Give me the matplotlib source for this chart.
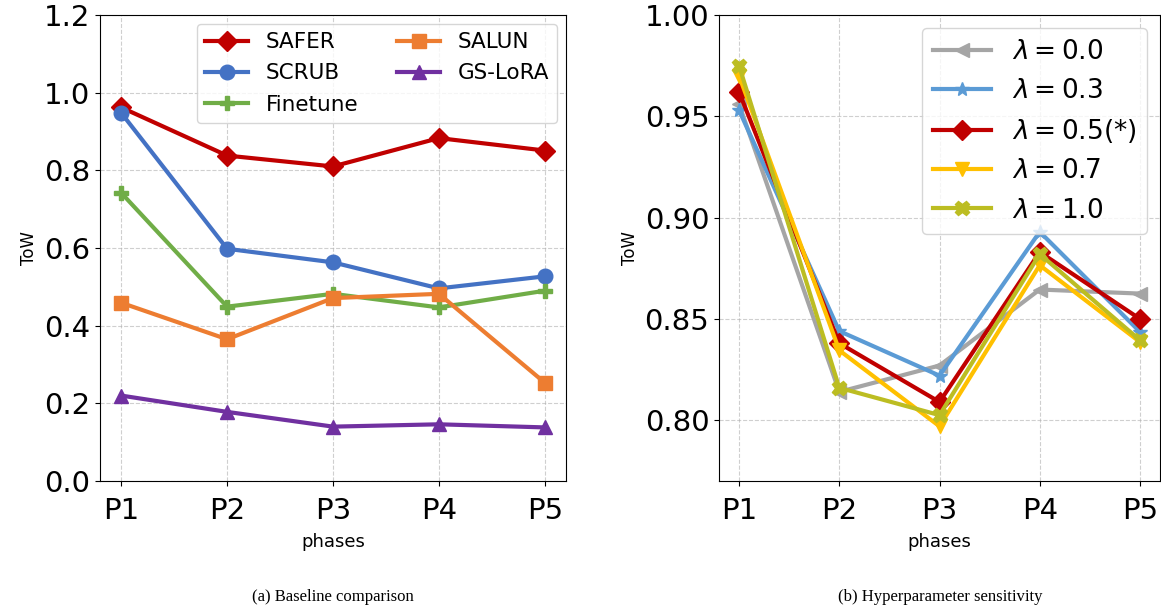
import numpy as np
import matplotlib.pyplot as plt

phases = ['P1', 'P2', 'P3', 'P4', 'P5']

# (a) baseline comparison
safer = [0.962, 0.838, 0.810, 0.883, 0.851]
scrub = [0.948, 0.598, 0.563, 0.496, 0.527]
finetune = [0.742, 0.449, 0.482, 0.447, 0.490]
salun = [0.459, 0.365, 0.471, 0.482, 0.253]
gs_lora = [0.220, 0.178, 0.140, 0.146, 0.138]

# (b) hyperparameter sensitivity
lam_00 = [0.956, 0.814, 0.827, 0.8645, 0.8625]
lam_03 = [0.953, 0.844, 0.822, 0.893, 0.8436]
lam_05 = [0.962, 0.838, 0.809, 0.883, 0.850]
lam_07 = [0.970, 0.8345, 0.797, 0.8765, 0.8386]
lam_10 = [0.975, 0.816, 0.8025, 0.882, 0.8395]

x = np.arange(len(phases))

fig = plt.figure(figsize=(11.61, 6.08), dpi=100)
ax1 = fig.add_axes([100/1161, 1-481/608, 466/1161, 466/608])
ax2 = fig.add_axes([719/1161, 1-481/608, 441/1161, 466/608])

lw, ms = 3, 10.5
ax1.plot(x, safer, color='#c00000', marker='D', lw=lw, ms=ms, label='SAFER')
ax1.plot(x, scrub, color='#4472c4', marker='o', lw=lw, ms=ms, label='SCRUB')
ax1.plot(x, finetune, color='#70ad47', marker='P', lw=lw, ms=ms, label='Finetune')
ax1.plot(x, salun, color='#ed7d31', marker='s', lw=lw, ms=ms, label='SALUN')
ax1.plot(x, gs_lora, color='#7030a0', marker='^', lw=lw, ms=ms, label='GS-LoRA')
ax1.set_ylim(0, 1.2)
ax1.set_yticks(np.arange(0, 1.21, 0.2))
ax1.legend(loc='upper right', ncol=2, fontsize=15.5, columnspacing=1.8,
           borderaxespad=0.4, labelspacing=0.52)

ax2.plot(x, lam_00, color='#a5a5a5', marker='<', lw=lw, ms=ms, label=r'$\lambda=0.0$')
ax2.plot(x, lam_03, color='#5b9bd5', marker='*', lw=lw, ms=ms, label=r'$\lambda=0.3$')
ax2.plot(x, lam_05, color='#c00000', marker='D', lw=lw, ms=ms, label=r'$\lambda=0.5(*)$')
ax2.plot(x, lam_07, color='#ffc000', marker='v', lw=lw, ms=ms, label=r'$\lambda=0.7$')
ax2.plot(x, lam_10, color='#bcbd22', marker='X', lw=lw, ms=ms, label=r'$\lambda=1.0$')
ax2.set_ylim(0.77, 1.0)
ax2.set_yticks([0.80, 0.85, 0.90, 0.95, 1.00])
ax2.set_yticklabels(['0.80', '0.85', '0.90', '0.95', '1.00'])
ax2.legend(loc='upper right', fontsize=19, handlelength=2.2, borderaxespad=0.5)

for ax in (ax1, ax2):
    ax.set_xticks(x)
    ax.set_xticklabels(phases)
    ax.tick_params(labelsize=21)
    ax.tick_params(axis='x', pad=8)
    ax.set_xlabel('phases', fontsize=13, labelpad=6)
    ax.set_ylabel('ToW', fontsize=12)
    ax.grid(True, linestyle='--', alpha=0.6)

fig.text(333/1161, 1-597/608, '(a) Baseline comparison', ha='center', va='center',
         family='Liberation Serif', fontsize=12)
fig.text(940/1161, 1-597/608, '(b) Hyperparameter sensitivity', ha='center', va='center',
         family='Liberation Serif', fontsize=12)

fig.savefig('out.png', dpi=100)
